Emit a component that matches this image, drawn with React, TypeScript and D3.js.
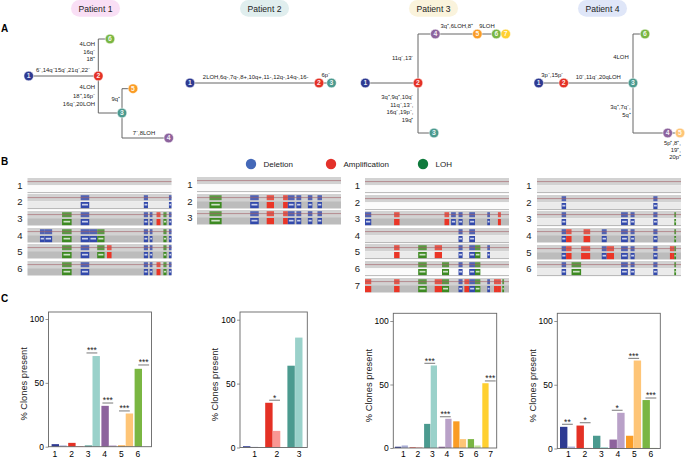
import { useEffect, useRef } from 'react';
import * as d3 from 'd3';

const FONT = '"Liberation Sans", Arial, sans-serif';

// clone colours: [dark, light], index = clone number - 1
const cloneColors = [
  ['#2e3a92', '#a9add6'],
  ['#e43125', '#f99793'],
  ['#4b9a8f', '#9ad1ca'],
  ['#8d639d', '#b9a1c8'],
  ['#fa9c25', '#fec577'],
  ['#7ab642', '#c6e3a1'],
  ['#ffd030', '#ffe58a'],
];

// --- panel A: clone trees ---
const patients = ['Patient 1', 'Patient 2', 'Patient 3', 'Patient 4'];
const pillColors = ['#f9dff5', '#e0eeee', '#faf3dc', '#dfe6f8'];
const pillStarts = [71, 240, 409, 578];

// parent clone number, branch length, vertical lane (tree units)
const tree1Parents = [0, 1, 2, 3, 3, 2];
const tree1Branches = [0, 69.6, 23.7, 46.7, 11, 11.7];
const tree1Lanes = [0, 0, 37, 62, 12.7, -37];
const tree2Parents = [0, 1, 2];
const tree2Branches = [0, 129, 12.5];
const tree2Lanes = [0, 0, 0];
const tree3Parents = [0, 1, 2, 2, 4, 5, 6];
const tree3Branches = [0, 52.7, 16, 17.3, 42, 19, 9.4];
const tree3Lanes = [0, 0, 50, -49, -49, -49, -49];
const tree4Parents = [0, 1, 2, 3, 4, 3];
const tree4Branches = [0, 25, 69.3, 34.7, 12.3, 12];
const tree4Lanes = [0, 0, 0, 50, 50, -49];

const trees = [
  { parents: tree1Parents, branches: tree1Branches, lanes: tree1Lanes, x: 28.7, y: 76 },
  { parents: tree2Parents, branches: tree2Branches, lanes: tree2Lanes, x: 190, y: 83 },
  { parents: tree3Parents, branches: tree3Branches, lanes: tree3Lanes, x: 365.3, y: 83 },
  { parents: tree4Parents, branches: tree4Branches, lanes: tree4Lanes, x: 538.7, y: 83 },
];

const treeLabels: [string, number, number, string][] = [
  ['6⁻,14q⁻15q⁻,21q⁻,22⁻', 63, 72, 'middle'],
  ['4LOH', 95, 46.3, 'end'],
  ['16q⁻', 95, 53.7, 'end'],
  ['18⁺', 95, 61, 'end'],
  ['4LOH', 95, 89.3, 'end'],
  ['18⁺,16p⁻', 95, 97.5, 'end'],
  ['16q⁻,20LOH', 95, 105.7, 'end'],
  ['9q⁺', 120, 101, 'end'],
  ['7⁻,8LOH', 144, 134.7, 'middle'],
  ['2LOH,6q-,7q-,8+,10q+,11-,12q-,14q-,16-', 255.7, 79, 'middle'],
  ['6p⁻', 325.7, 77, 'middle'],
  ['3q⁺,6LOH,8⁺', 456.7, 28.3, 'middle'],
  ['9LOH', 487, 28.3, 'middle'],
  ['11q⁻,13⁻', 413.5, 59.7, 'end'],
  ['3q⁺,9q⁺,10q⁻', 413.5, 99, 'end'],
  ['11q⁻,13⁻,', 413.5, 106.7, 'end'],
  ['16q⁻,19p⁻,', 413.5, 114.2, 'end'],
  ['19q⁺', 413.5, 121.5, 'end'],
  ['3p⁻,15p⁻', 552.3, 77.3, 'middle'],
  ['10⁻,11q⁻,20qLOH', 598.3, 78.7, 'middle'],
  ['4LOH', 621, 58.7, 'middle'],
  ['3q⁺,7q⁻,', 630.7, 109, 'end'],
  ['5q⁺', 630.7, 117, 'end'],
  ['5p⁺,8⁺,', 681, 145, 'end'],
  ['19⁺,', 681, 152, 'end'],
  ['20p⁺', 681, 159, 'end'],
];

// --- panel B: copy number profiles ---
const chromLengths = [249, 243, 198, 191, 181, 171, 159, 146, 141, 135, 135, 133, 115, 107, 102, 90, 81, 78, 59, 63, 48, 51];
const pArmShare = [0.5, 0.38, 0.45, 0.26, 0.27, 0.36, 0.38, 0.31, 0.35, 0.3, 0.4, 0.27, 0.15, 0.16, 0.19, 0.4, 0.3, 0.2, 0.45, 0.44, 0.27, 0.29];

const eventColors: Record<string, string> = { d: '#3248ab', a: '#ea3428', l: '#3e8a22' };

// each row: bottom band tone, then events typed d:/a:/l: + chromosome or arm
const profile1Bands = ['white', 'pale', 'grey', 'grey', 'grey', 'grey'];
const profile1Rows = [
  [],
  ['d:6', 'd:15q', 'd:22'],
  ['l:4', 'd:6', 'd:15q', 'd:16q', 'a:18', 'l:20', 'd:22'],
  ['d:2p', 'd:2q', 'l:4', 'd:6', 'd:7', 'l:8', 'd:15q', 'd:16q', 'l:20', 'd:22'],
  ['l:4', 'd:6', 'l:8', 'a:9q', 'd:15q', 'd:16q', 'l:20', 'd:22'],
  ['l:4', 'd:6', 'd:15q', 'd:16q', 'a:18', 'l:20', 'd:22'],
];
const profile2Bands = ['white', 'grey', 'grey'];
const profile2Rows = [
  [],
  ['l:2', 'd:6', 'a:8', 'a:10q', 'd:11', 'd:12q', 'd:14q', 'd:16'],
  ['l:2', 'd:6', 'a:8', 'a:10q', 'd:11', 'd:12q', 'd:14q', 'd:16'],
];
const profile3Bands = ['white', 'white', 'grey', 'pale', 'pale', 'white', 'grey'];
const profile3Rows = [
  [],
  [],
  ['d:1p', 'a:3q', 'a:9q', 'd:10q', 'd:11q', 'd:13', 'd:16q', 'a:19'],
  ['d:11q', 'd:13'],
  ['a:3q', 'l:6', 'a:8', 'd:11q', 'd:13', 'l:14', 'd:16q'],
  ['l:6', 'l:9', 'd:11q', 'd:13', 'l:14'],
  ['a:1p', 'a:3q', 'l:6', 'a:8', 'l:9', 'd:11q', 'a:12q', 'd:13', 'l:14', 'd:16q', 'a:18', 'a:19', 'l:20q'],
];
const profile4Bands = ['pale', 'pale', 'pale', 'grey', 'grey', 'pale'];
const profile4Rows = [
  [],
  ['d:3p', 'd:15q'],
  ['d:3p', 'd:10', 'd:11q', 'd:15q', 'l:20q'],
  ['d:3p', 'a:3q', 'a:5q', 'd:7q', 'd:10', 'd:11q', 'd:15q', 'l:20q'],
  ['d:3p', 'a:3q', 'a:5', 'd:7q', 'a:8', 'd:10', 'd:11q', 'd:15q', 'a:19', 'a:20p', 'l:20q'],
  ['d:3p', 'l:4', 'd:10', 'd:11q', 'd:15q', 'l:20q'],
];

const profiles = [
  { rows: profile1Rows, bands: profile1Bands, x: 27.5, labelX: 20, tops: [178, 194, 211, 228, 244, 261] },
  { rows: profile2Rows, bands: profile2Bands, x: 197, labelX: 190, tops: [177, 194, 210] },
  { rows: profile3Rows, bands: profile3Bands, x: 365, labelX: 357.3, tops: [178, 195, 211, 228, 244, 261, 278] },
  { rows: profile4Rows, bands: profile4Bands, x: 537, labelX: 529, tops: [178, 195, 211, 228, 245, 261] },
];

const legendNames = ['Deletion', 'Amplification', 'LOH'];
const legendColors = ['#4468b8', '#e3312a', '#0f7a3c'];
const legendX = [251, 331, 423];

// --- panel C: % clones present, [dark, light] per clone ---
const chart1Values = [[2, 1], [3, 0.5], [1, 71], [32, 1], [1, 26], [61, 0]];
const chart2Values = [[1, 0.5], [35, 13], [64, 86]];
const chart3Values = [[1, 2], [0.5, 0.5], [19, 65], [1, 23], [21, 7], [7, 2], [51, 0]];
const chart4Values = [[17, 1.5], [18, 0.5], [10, 1], [7, 28], [10, 69], [38, 0.5]];

// clone, height of the bracket, stars, nudge of the bracket inside the group
const chart1Sig: [number, number, string, number][] = [[3, 73.4, '***', 1.7], [4, 34.2, '***', 1], [5, 28, '***', 1], [6, 64, '***', 3.7]];
const chart2Sig: [number, number, string, number][] = [[2, 37, '*', 4]];
const chart3Sig: [number, number, string, number][] = [[3, 66.7, '***', 0.3], [4, 24.6, '***', 1.3], [7, 52.8, '***', 2.6]];
const chart4Sig: [number, number, string, number][] = [[1, 19, '**', 2], [2, 20.2, '*', 3.3], [4, 30, '*', 2.3], [5, 70.7, '***', 2.3], [6, 39.6, '***', 3]];

const charts = [
  { values: chart1Values, sig: chart1Sig, frame: [48.5, 151.5, 312], y0: 446.7, y100: 319, start: 51.6, step: 16.6, bar: 7.7, labelDx: -5, titleX: 25 },
  { values: chart2Values, sig: chart2Sig, frame: [240, 307.3, 312], y0: 447.5, y100: 319.7, start: 243, step: 22.2, bar: 7.7, labelDx: 0.5, titleX: 216 },
  { values: chart3Values, sig: chart3Sig, frame: [393.3, 496.7, 313.3], y0: 448, y100: 321, start: 395, step: 14.55, bar: 6.6, labelDx: 1, titleX: 370 },
  { values: chart4Values, sig: chart4Sig, frame: [557.3, 660.3, 313.3], y0: 448.5, y100: 321, start: 560, step: 16.5, bar: 7.7, labelDx: 0, titleX: 534 },
];

function Tree({ tree, patient }: { tree: (typeof trees)[number]; patient: number }) {
  const xScale = d3.scaleLinear().domain([0, 100]).range([tree.x, tree.x + 100]);
  const yScale = d3.scaleLinear().domain([-50, 50]).range([tree.y - 50, tree.y + 50]);
  const offsets: number[] = [];
  tree.parents.forEach((p, i) => {
    offsets[i] = (p ? offsets[p - 1] : 0) + tree.branches[i];
  });
  return (
    <g>
      {tree.parents.map((p, i) => {
        if (!p) return null;
        const path = d3.path();
        path.moveTo(xScale(offsets[p - 1]), yScale(tree.lanes[p - 1]));
        path.lineTo(xScale(offsets[p - 1]), yScale(tree.lanes[i]));
        path.lineTo(xScale(offsets[i]), yScale(tree.lanes[i]));
        return <path key={i} d={path.toString()} fill="none" stroke="#666" strokeWidth={1} />;
      })}
      {tree.parents.map((_, i) => {
        const fill = patient === 3 && i === 4 ? cloneColors[4][1] : cloneColors[i][0];
        return (
          <g key={i} transform={`translate(${xScale(offsets[i])},${yScale(tree.lanes[i])})`}>
            <circle r={4.8} fill={fill} stroke="#fff" strokeWidth={0.5} />
            <text y={2.4} textAnchor="middle" fontSize={6.8} fontWeight="bold" fill="#fff" fillOpacity={0.9}>{i + 1}</text>
          </g>
        );
      })}
    </g>
  );
}

function Profile({ profile }: { profile: (typeof profiles)[number] }) {
  const starts = d3.cumsum([0, ...chromLengths.slice(0, -1)]);
  const total = d3.sum(chromLengths);
  const x = d3.scaleLinear().domain([0, total]).range([profile.x, profile.x + 144]);
  const tones: Record<string, string> = { white: '#fbfbfb', pale: '#ebebeb', grey: '#bcbcbc' };

  const span = (name: string) => {
    const chrom = parseInt(name, 10) - 1;
    const arm = name.slice(-1);
    const start = starts[chrom];
    const cen = start + chromLengths[chrom] * pArmShare[chrom];
    if (arm === 'p') return [start, cen];
    if (arm === 'q') return [cen, start + chromLengths[chrom]];
    return [start, start + chromLengths[chrom]];
  };

  return (
    <g>
      {profile.rows.map((events, r) => {
        const top = profile.tops[r];
        return (
          <g key={r}>
            <text x={profile.labelX} y={top + 11} textAnchor="middle" fontSize={9.5} fill="#222">{r + 1}</text>
            <g filter="url(#soften)">
              <rect x={x(0)} y={top} width={144} height={7.2} fill="#d2d2d2" />
              <rect x={x(0)} y={top + 7.2} width={144} height={7.3} fill={tones[profile.bands[r]]} />
              {events.map((ev) => {
                const [kind, name] = ev.split(':');
                const [a, b] = span(name);
                const w = x(b) - x(a);
                const color = eventColors[kind];
                return (
                  <g key={ev}>
                    <rect x={x(a)} y={top + 1.2} width={w} height={5} fill={color} fillOpacity={0.8} />
                    <rect x={x(a)} y={top + 8} width={w} height={6.2} fill={color} />
                    {kind !== 'a' && <rect x={x(a) + w * 0.15} y={top + 9.8} width={w * 0.7} height={1.7} fill="#fff" fillOpacity={0.75} />}
                  </g>
                );
              })}
              {starts.map((s) => (
                <line key={s} x1={x(s)} x2={x(s)} y1={top} y2={top + 14.5} stroke="#fff" strokeWidth={0.4} />
              ))}
              <line x1={x(0)} x2={x(total)} y1={top + 3.6} y2={top + 3.6} stroke="#a05a62" strokeWidth={0.6} />
              {profile.bands[r] !== 'grey' && (
                <line x1={x(0)} x2={x(total)} y1={top + 14.6} y2={top + 14.6} stroke="#888" strokeWidth={0.6} />
              )}
            </g>
          </g>
        );
      })}
    </g>
  );
}

function BarChart({ chart }: { chart: (typeof charts)[number] }) {
  const axisRef = useRef<SVGGElement | null>(null);
  const labelRef = useRef<SVGGElement | null>(null);
  const names = chart.values.map((_, i) => String(i + 1));
  const y = d3.scaleLinear().domain([0, 100]).range([chart.y0, chart.y100]);
  const x = d3.scaleBand<string>().domain(names).range([chart.start, chart.start + chart.step * names.length]);
  const [left, right, top] = chart.frame;

  useEffect(() => {
    if (!axisRef.current || !labelRef.current) return;
    const yAxis = d3.select(axisRef.current).call(d3.axisLeft(y).tickValues([0, 50, 100]).tickSize(3).tickPadding(1.5));
    yAxis.select('.domain').remove();
    yAxis.attr('font-size', 8.5).attr('font-family', FONT);
    yAxis.selectAll('line').attr('stroke', '#666').attr('stroke-width', 0.7);
    const xAxis = d3.select(labelRef.current).call(d3.axisBottom(x).tickSize(0).tickPadding(0));
    xAxis.select('.domain').remove();
    xAxis.attr('font-size', 8.5).attr('font-family', FONT);
  }, []);

  return (
    <g>
      {chart.values.map((pair, i) => {
        const colors = cloneColors[i];
        return pair.map((v, j) => (
          <rect
            key={`${i}-${j}`}
            x={(x(names[i]) as number) + j * (chart.bar)}
            y={y(v)}
            width={chart.bar - 0.3}
            height={chart.y0 - y(v)}
            fill={colors[j]}
          />
        ));
      })}
      {chart.sig.map(([clone, level, stars, nudge]) => {
        const x0 = (x(String(clone)) as number) + nudge;
        return (
          <g key={clone}>
            <line x1={x0} x2={x0 + 10.8} y1={y(level)} y2={y(level)} stroke="#555" strokeWidth={0.8} />
            <text x={x0 + 5.4} y={y(level) + 0.3} textAnchor="middle" fontSize={8.5} fill="#222">{stars}</text>
          </g>
        );
      })}
      <rect x={left} y={top} width={right - left} height={chart.y0 - top} fill="none" stroke="#666" strokeWidth={0.9} />
      <g ref={axisRef} transform={`translate(${left},0)`} />
      <g ref={labelRef} transform={`translate(${chart.labelDx},451)`} />
      <text
        transform={`translate(${chart.titleX},${(chart.y0 + chart.y100) / 2 + 1}) rotate(-90)`}
        textAnchor="middle"
        dominantBaseline="middle"
        fontSize={9.3}
        fill="#222"
      >
        % Clones present
      </text>
    </g>
  );
}

export default function App() {
  return (
    <svg width={685} height={459} fontFamily={FONT} style={{ position: 'absolute', left: 0, top: 0, background: '#fff' }}>
      <defs>
        <filter id="soften" x="-2%" y="-10%" width="104%" height="120%">
          <feGaussianBlur stdDeviation="0.4" />
        </filter>
      </defs>
      {patients.map((p, i) => (
        <g key={p}>
          <rect x={pillStarts[i]} y={0} width={49} height={16.8} rx={8.4} fill={pillColors[i]} />
          <text x={pillStarts[i] + 24.5} y={11.5} textAnchor="middle" fontSize={8.6} fill="#222">{p}</text>
        </g>
      ))}
      <text x={1} y={31.5} fontSize={10} fontWeight="bold">A</text>
      <text x={1} y={164.5} fontSize={10} fontWeight="bold">B</text>
      <text x={1} y={302} fontSize={10} fontWeight="bold">C</text>

      {trees.map((t, i) => <Tree key={i} tree={t} patient={i} />)}
      {treeLabels.map(([t, x, y, anchor], i) => (
        <text key={i} x={x} y={y} textAnchor={anchor as 'middle' | 'end'} fontSize={5.9} fill="#222">{t}</text>
      ))}

      {legendNames.map((n, i) => (
        <g key={n}>
          <circle cx={legendX[i]} cy={164} r={5.2} fill={legendColors[i]} />
          <text x={legendX[i] + 12.5} y={167} fontSize={8} fill="#222">{n}</text>
        </g>
      ))}
      {profiles.map((p, i) => <Profile key={i} profile={p} />)}
      {charts.map((c, i) => <BarChart key={i} chart={c} />)}
    </svg>
  );
}
